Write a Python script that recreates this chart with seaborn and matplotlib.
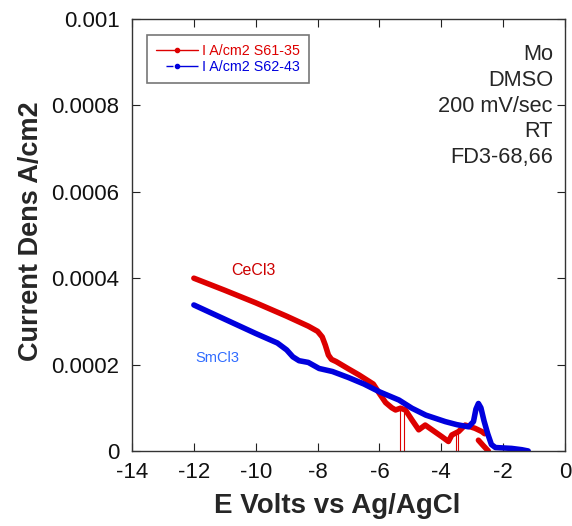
import matplotlib
matplotlib.use("Agg")
import matplotlib.pyplot as plt
from matplotlib.lines import Line2D
import pandas as pd
import seaborn as sns

# CeCl3 run (S61-35): main branch of the sweep, E in V vs Ag/AgCl, I in A/cm2
ce_e = [-12.0, -11.0, -10.0, -9.0, -8.3, -8.0, -7.85, -7.75, -7.65, -7.55, -7.4,
        -7.0, -6.66, -6.2, -6.0, -5.8, -5.6, -5.48, -5.32, -5.16, -4.95, -4.73,
        -4.52, -4.30, -3.98, -3.77, -3.66, -3.44, -3.23, -2.91, -2.69, -2.6]
ce_i = [4.00e-4, 3.72e-4, 3.43e-4, 3.12e-4, 2.89e-4, 2.77e-4, 2.64e-4, 2.45e-4,
        2.22e-4, 2.12e-4, 2.07e-4, 1.90e-4, 1.76e-4, 1.55e-4, 1.33e-4, 1.12e-4,
        1.00e-4, 0.95e-4, 0.99e-4, 0.95e-4, 0.72e-4, 0.49e-4, 0.60e-4, 0.49e-4,
        0.33e-4, 0.22e-4, 0.37e-4, 0.45e-4, 0.60e-4, 0.525e-4, 0.45e-4, 0.40e-4]
# CeCl3 short tail near the end of the sweep
ce_tail_e = [-2.80, -2.65, -2.48]
ce_tail_i = [0.25e-4, 0.13e-4, 0.0]
# single-sample dropouts to zero current
ce_drop_e = [-5.35, -5.20, -3.53, -3.46]
ce_drop_i = [1.00e-4, 0.96e-4, 0.42e-4, 0.44e-4]

# SmCl3 run (S62-43)
sm_e = [-12.0, -11.0, -10.0, -9.3, -9.0, -8.8, -8.6, -8.3, -7.95, -7.52, -7.0,
        -6.5, -6.0, -5.37, -4.95, -4.5, -3.87, -3.5, -3.12, -2.96, -2.88, -2.80,
        -2.72, -2.62, -2.50, -2.38, -2.25, -1.73, -1.40, -1.19]
sm_i = [3.38e-4, 3.05e-4, 2.72e-4, 2.50e-4, 2.34e-4, 2.18e-4, 2.09e-4, 2.05e-4,
        1.91e-4, 1.84e-4, 1.70e-4, 1.55e-4, 1.37e-4, 1.18e-4, 0.99e-4, 0.83e-4,
        0.68e-4, 0.61e-4, 0.56e-4, 0.68e-4, 0.97e-4, 1.10e-4, 1.00e-4, 0.70e-4,
        0.40e-4, 0.15e-4, 0.08e-4, 0.06e-4, 0.03e-4, 0.0]

series_names = ["I A/cm2 S61-35", "I A/cm2 S62-43"]
x_ticks = [-14, -12, -10, -8, -6, -4, -2, 0]
x_tick_labels = ["-14", "-12", "-10", "-8", "-6", "-4", "-2", "0"]
y_ticks = [0, 0.0002, 0.0004, 0.0006, 0.0008, 0.001]
y_tick_labels = ["0", "0.0002", "0.0004", "0.0006", "0.0008", "0.001"]
conditions = ["Mo", "DMSO", "200 mV/sec", "RT", "FD3-68,66"]

RED = "#dd0000"
BLUE = "#0000dd"

sns.set_style("ticks")
plt.rcParams["font.family"] = ["Liberation Sans", "DejaVu Sans"]
plt.rcParams["axes.unicode_minus"] = False

df = pd.concat([
    pd.DataFrame({"E": ce_e, "I": ce_i, "trace": series_names[0], "seg": "ce_main"}),
    pd.DataFrame({"E": ce_tail_e, "I": ce_tail_i, "trace": series_names[0], "seg": "ce_tail"}),
    pd.DataFrame({"E": sm_e, "I": sm_i, "trace": series_names[1], "seg": "sm_main"}),
], ignore_index=True)

fig, ax = plt.subplots(figsize=(5.72, 5.26), dpi=100)
fig.subplots_adjust(left=0.2308, right=0.9878, bottom=0.1426, top=0.9639)

sns.lineplot(data=df, x="E", y="I", hue="trace", units="seg", estimator=None,
             sort=False, palette={series_names[0]: RED, series_names[1]: BLUE},
             linewidth=4, legend=False, ax=ax,
             solid_capstyle="round", solid_joinstyle="round")
ax.vlines(ce_drop_e, 0, ce_drop_i, color=RED, linewidth=0.8)

ax.set_xlim(-14, 0)
ax.set_ylim(0, 0.001)
ax.set_xticks(x_ticks)
ax.set_xticklabels(x_tick_labels)
ax.set_yticks(y_ticks)
ax.set_yticklabels(y_tick_labels)
ax.tick_params(direction="in", length=5.8, width=0.8, top=True, right=True,
               labelsize=16, colors="#222222", labelcolor="#111111")
ax.tick_params(axis="x", pad=8)
ax.tick_params(axis="y", pad=9)
for sp in ax.spines.values():
    sp.set_visible(True)
    sp.set_color("#333333")
    sp.set_linewidth(1.0)

ax.set_xlabel("E Volts vs Ag/AgCl", fontsize=20, fontweight="bold")
ax.set_ylabel("Current Dens A/cm2", fontsize=19.5, fontweight="bold")
ax.xaxis.label.set_va("baseline")
ax.xaxis.set_label_coords(0.4746, -0.1435)
ax.yaxis.label.set_va("baseline")
ax.yaxis.set_label_coords(-0.217, 0.508)

ax.text(-10.07, 4.17e-4, "CeCl3", color="#cc0000", fontsize=11.5,
        ha="center", va="center")
ax.text(-11.23, 2.15e-4, "SmCl3", color="#2f6bff", fontsize=10.5,
        ha="center", va="center")
ax.text(0.972, 0.943, "\n".join(conditions), transform=ax.transAxes,
        ha="right", va="top", multialignment="right", fontsize=15.7,
        linespacing=1.31)

handles = [
    Line2D([], [], color=RED, lw=1, marker="o", markersize=3),
    Line2D([], [], color=BLUE, lw=1, marker="o", markersize=3,
           linestyle=(23.76, (5.04, 2.5, 16.2, 7.2))),
]
leg = ax.legend(handles, series_names, loc="upper left",
                bbox_to_anchor=(0.0346, 0.963), borderaxespad=0,
                fontsize=10.3, handlelength=3.0, handletextpad=0.25,
                borderpad=0.6, labelspacing=0.2, frameon=True,
                fancybox=False, labelcolor=[RED, BLUE], markerscale=1)
leg.get_frame().set_edgecolor("#555555")
leg.get_frame().set_linewidth(1.2)

fig.savefig("out.png", dpi=100)
